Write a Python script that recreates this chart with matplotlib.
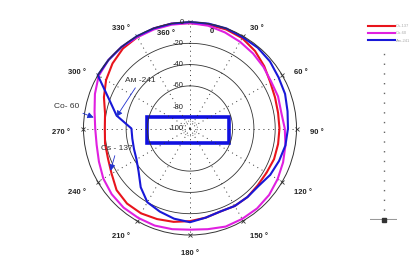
import numpy as np
import matplotlib
matplotlib.use("Agg")
import matplotlib.pyplot as plt
from matplotlib.patches import Rectangle

# =========================================================
# DATA (dB vs. angle)
# =========================================================

angles_deg = list(range(0, 360, 10))

cs137_db = [-1, -1, -1, -2, -5, -9, -13, -15, -16, -16,
            -16, -16, -17, -17, -16, -16, -17, -15, -13, -11,
            -9.5, -8, -8, -10, -15, -18, -19, -20, -19, -14,
            -9, -5, -2, -1, 0, 0]

co60_db = [-1, -2, -4, -6, -8, -10, -12, -12, -13, -11,
           -9, -7, -5, -3, -2, -2, -2, -4, -5, -4,
           -3, -3, -3, -4, -6, -9, -11, -11, -9, -5,
           -1, 0, 0, -1, -1, -1]

am241_db = [0, 0, 0, -1, -1, -2, -4, -5, -7, -8,
            -9, -11, -13, -16, -16, -16, -17, -15, -12, -14,
            -17, -20, -28, -37, -42, -44, -45, -45, -30, -19,
            0, 0, 0, 0, 0, 0]

series_names = ["Cs-137", "Co-60", "Am-241"]
series_colors = ["#e8141c", "#e020e0", "#1818d8"]

ring_levels = [-60, -40, -20]
radial_labels = ["0", "-20", "-40", "-60", "-80", "-100"]
radial_label_values = [0, -20, -40, -60, -80, -100]
spoke_angles = list(range(0, 360, 30))
angle_labels = [30, 60, 90, 120, 150, 180, 210, 240, 270, 300, 330]

plt.rcParams["font.family"] = ["Liberation Sans", "DejaVu Sans"]

# =========================================================
# FIGURE
# =========================================================

fig = plt.figure(figsize=(4.2, 2.57), dpi=100)

ax = fig.add_axes([83 / 420, 22 / 257, 214 / 420, 213 / 257],
                  projection="polar")
ax.set_theta_zero_location("N")
ax.set_theta_direction(-1)
ax.set_ylim(-100, 0)
ax.grid(False)
ax.set_xticks([])
ax.set_yticks([])
ax.patch.set_alpha(0)
ax.spines["polar"].set_linewidth(0.7)
ax.spines["polar"].set_color("#333333")

full = np.linspace(0, 2 * np.pi, 361)

# rings
for level in ring_levels:
    ax.plot(full, np.full_like(full, level), color="#333333", lw=0.6)
ax.plot(full, np.full_like(full, -93), color="#444444", lw=0.6,
        ls=(0, (1, 2)))

# dotted spokes
for a in spoke_angles:
    ax.plot([np.deg2rad(a)] * 2, [-100, 0], color="#333333", lw=0.7,
            ls=(0, (1, 4)))

# tick marks on outer circle
ax.plot(np.deg2rad(spoke_angles), [0] * len(spoke_angles), "x",
        ms=2.5, mew=0.6, color="#333333", clip_on=False)

# curves
theta = np.deg2rad(angles_deg + [360])
handles = []
for vals, color, name in zip([cs137_db, co60_db, am241_db],
                             series_colors, series_names):
    line, = ax.plot(theta, vals + [vals[0]], color=color, lw=1.5,
                    label=name, clip_on=False)
    handles.append(line)

# radial labels
for val, txt in zip(radial_label_values, radial_labels):
    ax.annotate(txt, xy=(0, val), xytext=(-4.5, 0),
                textcoords="offset points", ha="right", va="center",
                fontsize=5.5, color="#222222")

# angle labels
for a in angle_labels:
    s = np.sin(np.deg2rad(a))
    ha = "left" if s > 0.3 else ("right" if s < -0.3 else "center")
    ax.annotate(f"{a} °", xy=(np.deg2rad(a), 13), xytext=(0, -3),
                textcoords="offset points", ha=ha, va="center",
                fontsize=5.5, fontweight="bold", color="#222222",
                annotation_clip=False)
ax.text(np.deg2rad(346), -8, "360 °", ha="center", va="center",
        fontsize=5.5, fontweight="bold", color="#222222")
ax.text(np.deg2rad(13), -7, "0", ha="center", va="center",
        fontsize=5.5, fontweight="bold", color="#222222")

# blue box in the middle
ax.add_patch(Rectangle((0.299, 0.432), 0.383, 0.122,
                       transform=ax.transAxes, fill=False,
                       edgecolor="#1010e0", lw=2.6, clip_on=False))

# annotations
arrow = dict(arrowstyle="-|>", color="#2030d0", lw=0.6,
             mutation_scale=9, shrinkA=1, shrinkB=0)
ax.annotate("Ам -241", xy=(np.deg2rad(279), -30),
            xytext=(np.deg2rad(314), -35), ha="center", va="center",
            fontsize=6, color="#333333", arrowprops=arrow)
ax.annotate("Co- 60", xy=(np.deg2rad(276.5), -9),
            xytext=(np.deg2rad(280), 18), ha="center", va="center",
            fontsize=6, color="#333333", arrowprops=arrow,
            annotation_clip=False)
ax.annotate("Cs - 137", xy=(np.deg2rad(242), -15.5),
            xytext=(np.deg2rad(255), -29), ha="center", va="center",
            fontsize=6, color="#333333", arrowprops=arrow)

# =========================================================
# LEGEND + SIDE STRIP
# =========================================================

fig.legend(handles=handles, labels=series_names, loc="upper left",
           bbox_to_anchor=(368 / 420, 1 - 24 / 257), frameon=False,
           fontsize=3, labelcolor="#aaaaaa", handlelength=6.5,
           handletextpad=0.2, labelspacing=0.8, borderpad=0,
           borderaxespad=0)

side = fig.add_axes([370 / 420, 37 / 257, 27 / 420, 168 / 257])
side.axis("off")
side.set_xlim(0, 1)
side.set_ylim(0, 1)
side.axvline(0.5, color="#666666", lw=1.0, ls=(0, (1, 6)))
side.axhline(0, color="#999999", lw=1.5)
side.plot([0.5], [0], "s", ms=2.5, color="#333333", clip_on=False)

plt.savefig("out.png", dpi=100)
plt.close()
